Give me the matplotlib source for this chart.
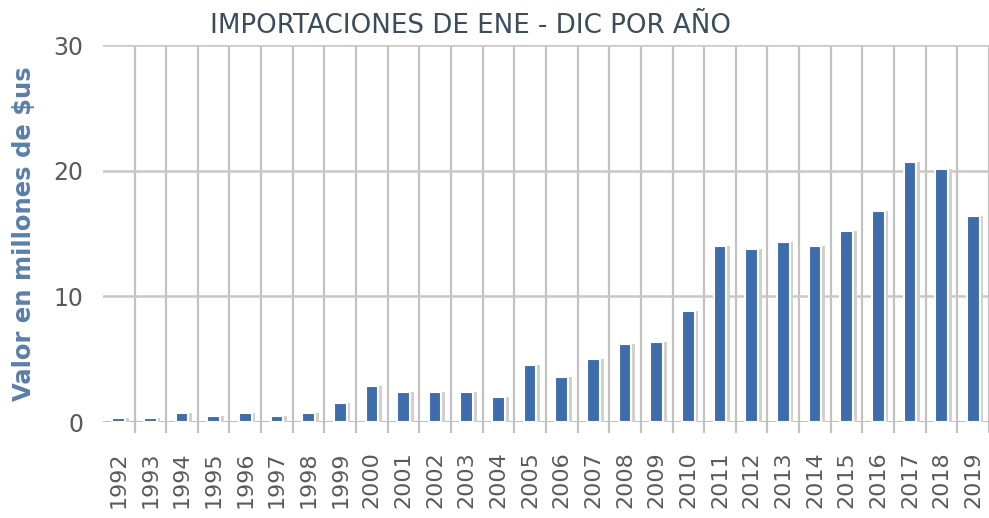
import matplotlib
matplotlib.use("Agg")
import matplotlib.pyplot as plt
import numpy as np

years = [str(y) for y in range(1992, 2020)]
values = [0.3, 0.3, 0.7, 0.5, 0.7, 0.5, 0.7, 1.5, 2.9, 2.4, 2.4, 2.4, 2.0, 4.5,
          3.6, 5.0, 6.2, 6.4, 8.8, 14.0, 13.8, 14.3, 14.0, 15.2, 16.8, 20.7, 20.1, 16.4]
yticks = [0, 10, 20, 30]

plt.rcParams['font.family'] = ['DejaVu Sans']

fig = plt.figure(figsize=(9.89, 5.18), dpi=100)
ax = fig.add_axes([0.104, 0.1853, 0.896, 0.7277])

x = np.arange(len(years))
# shadow
ax.bar(x + 0.13, values, width=0.38, color='#d3d0cc', zorder=2, linewidth=0)
ax.bar(x, values, width=0.40, color='#3f6dab', edgecolor='white', linewidth=1.5, zorder=3)

ax.set_xlim(-0.5, len(years) - 0.5)
ax.set_ylim(0, 30)
ax.set_yticks(yticks)
ax.set_xticks(x)
ax.set_xticklabels(years, rotation=90, fontsize=16, color='#5a5a5a')
ax.set_xticks(np.arange(len(years)) + 0.5, minor=True)
ax.tick_params(axis='x', which='major', length=0, pad=21)
ax.tick_params(axis='x', which='minor', length=8, width=1.6, color='#c2c2c2', direction='out')
ax.tick_params(axis='y', length=0, labelsize=17, labelcolor='#5a5a5a', pad=14)

ax.grid(axis='y', color='#c8c8c8', linewidth=1.8, zorder=0)
ax.grid(axis='x', which='minor', color='#c2c2c2', linewidth=1.6, zorder=0)
ax.set_axisbelow(True)
for s in ax.spines.values():
    s.set_visible(False)
ax.axhline(0, color='#a9c1dd', linewidth=2, zorder=1)

fig.text(0.476, 0.950, 'IMPORTACIONES DE ENE - DIC POR AÑO', ha='center', va='center',
         fontsize=18.8, color='#3b4c5c')
fig.text(0.024, 0.549, 'Valor en millones de $us', rotation=90, ha='center', va='center',
         fontsize=17.5, fontweight='bold', color='#5b7fa8')

fig.savefig('out.png', dpi=100)
